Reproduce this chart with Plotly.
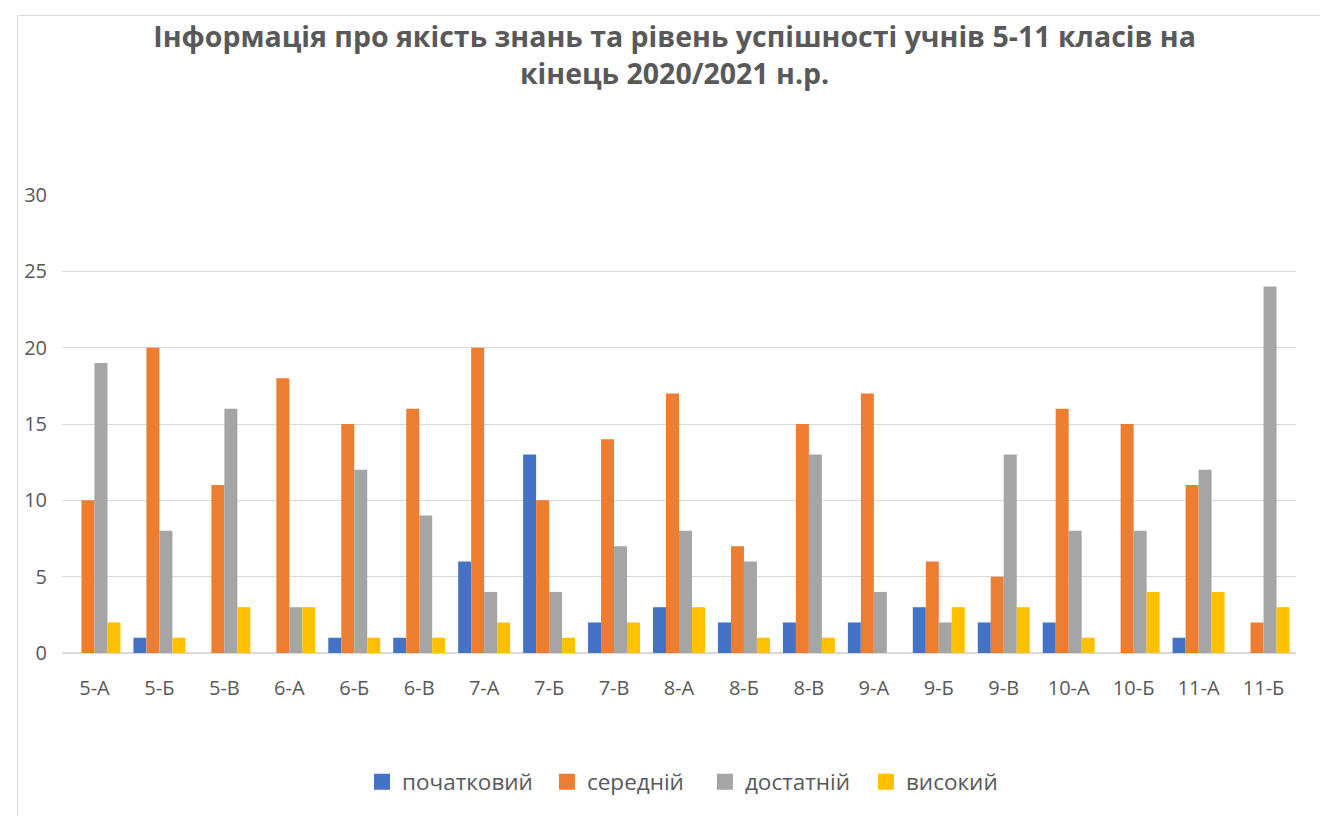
import plotly.graph_objects as go

categories = ["5-А", "5-Б", "5-В", "6-А", "6-Б", "6-В", "7-А", "7-Б", "7-В", "8-А",
              "8-Б", "8-В", "9-А", "9-Б", "9-В", "10-А", "10-Б", "11-А", "11-Б"]
pochatkovyi = [None, 1, None, None, 1, 1, 6, 13, 2, 3, 2, 2, 2, 3, 2, 2, None, 1, None]
serednii = [10, 20, 11, 18, 15, 16, 20, 10, 14, 17, 7, 15, 17, 6, 5, 16, 15, 11, 2]
dostatnii = [19, 8, 16, 3, 12, 9, 4, 4, 7, 8, 6, 13, 4, 2, 13, 8, 8, 12, 24]
vysokyi = [2, 1, 3, 3, 1, 1, 2, 1, 2, 3, 1, 1, None, 3, 3, 1, 4, 4, 3]

series_names = ["початковий", "середній", "достатній", "високий"]
series_values = [pochatkovyi, serednii, dostatnii, vysokyi]
series_colors = ["#4472C4", "#ED7D31", "#A5A5A5", "#FFC000"]

legend_ids = ["legend", "legend2", "legend3", "legend4"]
legend_x = [0.2431, 0.3930, 0.5210, 0.6515]

fig = go.Figure()
for name, vals, color, lg in zip(series_names, series_values, series_colors, legend_ids):
    fig.add_trace(go.Bar(x=categories, y=vals, name=name, marker_color=color,
                         marker_line_width=0, showlegend=False, legendgroup=name))
    fig.add_trace(go.Scatter(x=[None], y=[None], mode="markers", name=name,
                             marker=dict(symbol="square", size=19, color=color),
                             legend=lg, legendgroup=name, showlegend=True))

W, H = 1320, 808
legend_common = dict(orientation="h", xanchor="left", y=-0.2817, yanchor="middle",
                     font=dict(size=22.5, color="#595959"), bgcolor="rgba(0,0,0,0)")
layout_legends = {lg: dict(x=lx, **legend_common) for lg, lx in zip(legend_ids, legend_x)}

fig.update_layout(
    width=W, height=H,
    paper_bgcolor="white", plot_bgcolor="white",
    margin=dict(l=54, r=32, t=187, b=163),
    barmode="group", bargap=0.2, bargroupgap=0,
    title=dict(
        text="Інформація про якість знань та рівень успішності учнів 5-11 класів на<br>кінець 2020/2021 н.р.",
        x=0.505, xanchor="center", y=0.952, yanchor="middle",
        font=dict(family="Open Sans", size=28.5, color="#595959", weight="bold"),
    ),
    font=dict(family="Open Sans", color="#595959"),
    showlegend=True,
    **layout_legends,
)
fig.update_yaxes(range=[0, 30], dtick=5, showgrid=True, gridcolor="#d9d9d9", gridwidth=1,
                 zeroline=True, zerolinecolor="#d9d9d9", showline=False,
                 tickfont=dict(size=20, color="#595959"), ticks="", ticklabelstandoff=14)
fig.update_xaxes(showline=False, tickfont=dict(size=20, color="#595959"), ticks="",
                 ticklabelstandoff=21)

fig.add_shape(type="rect", xref="paper", yref="paper", x0=-0.036, y0=-0.4, x1=1.1, y1=1.392,
              line=dict(color="#d9d9d9", width=1), fillcolor="rgba(0,0,0,0)", layer="below")

fig.write_html("out.html")
